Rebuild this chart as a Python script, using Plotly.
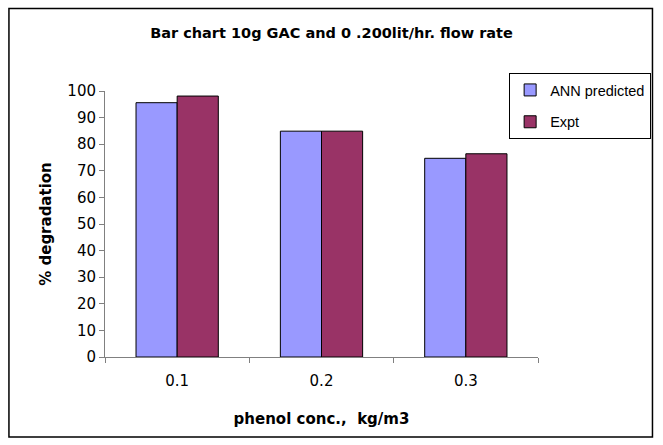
import plotly.graph_objects as go

categories = ["0.1", "0.2", "0.3"]
ann_predicted = [95.6, 84.9, 74.7]
expt = [98.1, 84.9, 76.4]
y_ticks = [0, 10, 20, 30, 40, 50, 60, 70, 80, 90, 100]

W, H = 663, 445
L, R, T, B = 105, 123, 91, 88
pw = W - L - R
ph = H - T - B

def px2x(px):
    return (px - L) / pw

def px2y(py):
    return (H - B - py) / ph

font = "DejaVu Sans, Liberation Sans, Arial, sans-serif"
font2 = "Liberation Sans, Arial, sans-serif"

fig = go.Figure()
fig.add_trace(go.Bar(x=categories, y=ann_predicted, name="ANN predicted", legendgroup="a",
                     marker=dict(color="#9999FF", line=dict(color="black", width=1))))
fig.add_trace(go.Bar(x=categories, y=expt, name="Expt", legendgroup="b",
                     marker=dict(color="#993366", line=dict(color="black", width=1))))

fig.update_layout(
    width=W, height=H,
    margin=dict(l=L, r=R, t=T, b=B),
    paper_bgcolor="white", plot_bgcolor="white",
    font=dict(family=font, size=15, color="black"),
    bargap=0.43, bargroupgap=0,
    title=dict(text="<b>Bar chart 10g GAC and 0 .200lit/hr. flow rate</b>",
               x=0.5, xref="container", xanchor="center", y=1 - 33 / H, yanchor="middle",
               font=dict(size=14.5, family=font)),
    showlegend=True,
    legend=dict(x=px2x(511), y=px2y(73), xanchor="left", yanchor="top",
                bordercolor="black", borderwidth=1, bgcolor="white",
                font=dict(size=14.5, family=font2), tracegroupgap=10,
                itemwidth=30),
    xaxis=dict(type="category", tickson="boundaries", ticks="outside", ticklen=5,
               tickcolor="#808080", showline=True, linecolor="#808080", linewidth=1,
               showgrid=False, zeroline=False, ticklabelstandoff=10,
               title=dict(text="<b>phenol conc.,  kg/m3</b>", font=dict(size=15), standoff=24)),
    yaxis=dict(range=[0, 100], tickvals=y_ticks, ticks="outside", ticklen=5,
               tickcolor="#808080", showline=True, linecolor="#808080", linewidth=1,
               showgrid=False, zeroline=False,
               title=dict(text="<b>% degradation</b>", font=dict(size=15), standoff=12)),
    shapes=[dict(type="rect", xref="paper", yref="paper",
                 x0=px2x(8.5), x1=px2x(655), y0=px2y(437), y1=px2y(8.5),
                 line=dict(color="black", width=1.5), fillcolor="rgba(0,0,0,0)", layer="below")],
)

fig.write_html("out.html")
